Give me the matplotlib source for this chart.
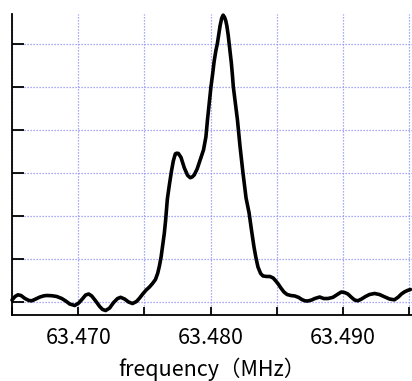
import matplotlib
matplotlib.use("Agg")
import matplotlib.pyplot as plt
from matplotlib.ticker import MultipleLocator, NullFormatter, FormatStrFormatter

plt.rcParams['font.family'] = ['Noto Sans CJK JP', 'DejaVu Sans']

# NMR spectrum: frequency (MHz) vs. signal intensity (arbitrary units)
freq_mhz = [
    63.46500, 63.46523, 63.46545, 63.46568, 63.46598, 63.46628, 63.46650, 63.46680, 63.46711, 63.46741,
    63.46763, 63.46801, 63.46838, 63.46876, 63.46906, 63.46936, 63.46974, 63.47004, 63.47034, 63.47056,
    63.47079, 63.47102, 63.47132, 63.47162, 63.47184, 63.47207, 63.47237, 63.47267, 63.47297, 63.47320,
    63.47350, 63.47380, 63.47410, 63.47440, 63.47462, 63.47487, 63.47513, 63.47538, 63.47562, 63.47583,
    63.47600, 63.47613, 63.47626, 63.47638, 63.47650, 63.47660, 63.47673, 63.47688, 63.47703, 63.47718,
    63.47733, 63.47743, 63.47756, 63.47776, 63.47801, 63.47826, 63.47846, 63.47861, 63.47876, 63.47898,
    63.47926, 63.47946, 63.47964, 63.47976, 63.47989, 63.48002, 63.48015, 63.48026, 63.48039, 63.48051,
    63.48062, 63.48071, 63.48083, 63.48094, 63.48105, 63.48114, 63.48122, 63.48132, 63.48139, 63.48147,
    63.48156, 63.48164, 63.48171, 63.48186, 63.48202, 63.48222, 63.48243, 63.48267, 63.48290, 63.48308,
    63.48327, 63.48342, 63.48357, 63.48377, 63.48395, 63.48423, 63.48447, 63.48472, 63.48492, 63.48510,
    63.48530, 63.48553, 63.48577, 63.48605, 63.48635, 63.48665, 63.48688, 63.48711, 63.48733, 63.48761,
    63.48786, 63.48823, 63.48853, 63.48886, 63.48923, 63.48951, 63.48986, 63.49011, 63.49036, 63.49064,
    63.49087, 63.49111, 63.49139, 63.49169, 63.49199, 63.49237, 63.49274, 63.49312, 63.49350, 63.49387,
    63.49417, 63.49440, 63.49462, 63.49485, 63.49508,
]
intensity = [
    0.053, 0.135, 0.174, 0.158, 0.088, 0.042, 0.035, 0.077, 0.123, 0.151,
    0.158, 0.153, 0.135, 0.088, 0.030, -0.040, -0.074, -0.016, 0.088, 0.170,
    0.193, 0.147, 0.030, -0.098, -0.167, -0.191, -0.133, -0.005, 0.088, 0.116,
    0.077, 0.007, -0.028, 0.019, 0.093, 0.193, 0.286, 0.356, 0.442, 0.530,
    0.674, 0.844, 1.060, 1.333, 1.605, 1.914, 2.402, 2.728, 3.030, 3.286,
    3.449, 3.465, 3.460, 3.367, 3.123, 2.949, 2.895, 2.914, 2.960, 3.100,
    3.356, 3.542, 3.844, 4.242, 4.635, 5.007, 5.309, 5.595, 5.844, 6.023,
    6.240, 6.426, 6.600, 6.674, 6.623, 6.542, 6.426, 6.216, 6.023, 5.821,
    5.565, 5.286, 5.007, 4.635, 4.242, 3.612, 3.030, 2.426, 2.077, 1.681,
    1.286, 1.030, 0.821, 0.670, 0.612, 0.600, 0.600, 0.565, 0.495, 0.426,
    0.333, 0.240, 0.181, 0.158, 0.147, 0.112, 0.065, 0.035, 0.030, 0.053,
    0.088, 0.123, 0.088, 0.088, 0.116, 0.170, 0.240, 0.228, 0.193, 0.112,
    0.053, 0.035, 0.077, 0.135, 0.181, 0.205, 0.181, 0.130, 0.077, 0.058,
    0.123, 0.193, 0.240, 0.274, 0.298,
]

x_major_step = 0.010
x_minor_step = 0.005
y_tick_step = 1.0

fig = plt.figure(figsize=(4.12, 3.81), dpi=100)
ax = fig.add_axes([12 / 412, 1 - 315 / 381, 1 - 12 / 412, (315 - 14) / 381])

ax.plot(freq_mhz, intensity, color='black', lw=2.6, solid_joinstyle='round',
        solid_capstyle='round', clip_on=False, zorder=3)

ax.set_xlim(63.465, 63.4952)
ax.set_ylim(-0.295, 6.70)

ax.xaxis.set_major_locator(MultipleLocator(x_major_step))
ax.xaxis.set_minor_locator(MultipleLocator(x_minor_step))
ax.xaxis.set_major_formatter(FormatStrFormatter('%.3f'))
ax.xaxis.set_minor_formatter(NullFormatter())
ax.yaxis.set_major_locator(MultipleLocator(y_tick_step))
ax.yaxis.set_major_formatter(NullFormatter())

grid_kw = dict(color='#8f8ff5', lw=0.9, linestyle=(0, (1, 1.4)))
ax.grid(True, which='both', axis='x', **grid_kw)
ax.grid(True, which='major', axis='y', **grid_kw)

ax.tick_params(axis='x', which='both', direction='in', length=5.5, width=1.3,
               pad=9, labelsize=15.5, colors='black')
ax.tick_params(axis='y', which='major', direction='in', length=8.5, width=1.3)

for side in ('top', 'right'):
    ax.spines[side].set_visible(False)
for side in ('left', 'bottom'):
    ax.spines[side].set_linewidth(1.3)

ax.set_xlabel('frequency（MHz）', fontsize=15.5, labelpad=6)

fig.savefig('out.png', dpi=100)
